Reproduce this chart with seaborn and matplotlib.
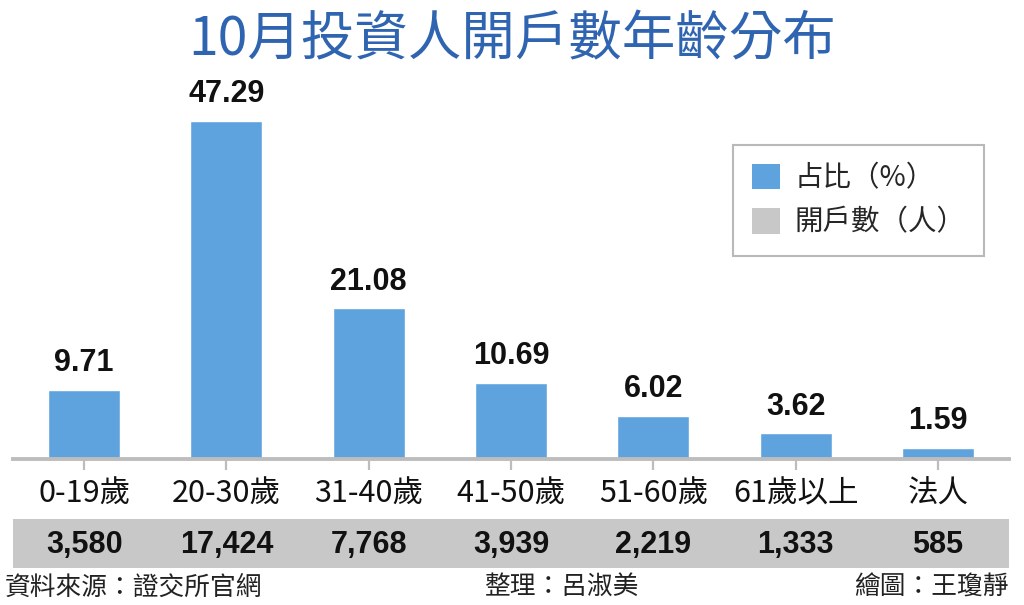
import matplotlib
matplotlib.use('Agg')
import matplotlib.pyplot as plt
import seaborn as sns
import pandas as pd
from matplotlib.patches import Patch

# data
age_groups = ['0-19歲', '20-30歲', '31-40歲', '41-50歲', '51-60歲', '61歲以上', '法人']
share_pct = [9.71, 47.29, 21.08, 10.69, 6.02, 3.62, 1.59]
accounts = [3580, 17424, 7768, 3939, 2219, 1333, 585]

title = '10月投資人開戶數年齡分布'
legend_labels = ['占比（%）', '開戶數（人）']
footer_left = '資料來源：證交所官網'
footer_mid = '整理：呂淑美'
footer_right = '繪圖：王瓊靜'

BAR_BLUE = '#5fa3de'
BAND_GRAY = '#c8c8c8'
LINE_GRAY = '#bdbdbd'
TITLE_BLUE = '#2f64b0'

sns.set_theme(style='white')
plt.rcParams['font.family'] = ['Noto Sans CJK TC', 'DejaVu Sans']
num_font = ['Liberation Sans', 'DejaVu Sans']

df = pd.DataFrame({'age': age_groups, 'pct': share_pct})

W, H = 1024, 605
fig = plt.figure(figsize=(W / 100, H / 100), dpi=100)

# main bar axes, placed in pixel terms
left, right, base, top = 13, 1009, 459, 87
ax = fig.add_axes([left / W, 1 - base / H, (right - left) / W, (base - top) / H])
sns.barplot(data=df, x='age', y='pct', color=BAR_BLUE, width=0.506,
            saturation=1, ax=ax)
ax.set_xlim(-0.5, len(age_groups) - 0.5)
ax.set_ylim(0, 52)
ax.set_xlabel('')
ax.set_ylabel('')
ax.set_yticks([])
for s in ['top', 'left', 'right']:
    ax.spines[s].set_visible(False)
ax.spines['bottom'].set_color(LINE_GRAY)
ax.spines['bottom'].set_linewidth(2.8)
ax.tick_params(axis='x', bottom=True, length=8, width=1.6, color=LINE_GRAY,
               pad=6, labelsize=22, labelcolor='#111111')

for i, v in enumerate(share_pct):
    ax.text(i, v + 1.6, f'{v:.2f}', ha='center', va='bottom', fontsize=22,
            fontweight='bold', family=num_font, color='#111111')

# legend box
handles = [Patch(facecolor=BAR_BLUE, edgecolor='none'),
           Patch(facecolor=BAND_GRAY, edgecolor='none')]
leg = fig.legend(handles, legend_labels, loc='upper left',
                 bbox_to_anchor=(733 / W, 1 - 145 / H), fontsize=20.5,
                 frameon=True, fancybox=False, handlelength=1.0, handleheight=1.0,
                 handletextpad=0.5, borderpad=0.65, labelspacing=0.5,
                 borderaxespad=0)
leg.get_frame().set_edgecolor('#a8a8a8')
leg.get_frame().set_linewidth(1.5)

# gray band with account counts
band = fig.add_axes([left / W, 1 - 568 / H, (right - left) / W, (568 - 519) / H])
band.set_facecolor(BAND_GRAY)
band.set_xlim(-0.5, len(age_groups) - 0.5)
band.set_ylim(0, 1)
band.set_xticks([])
band.set_yticks([])
for s in band.spines.values():
    s.set_visible(False)
for i, n in enumerate(accounts):
    band.text(i, 0.47, f'{n:,}', ha='center', va='center', fontsize=22,
              fontweight='bold', family=num_font, color='#111111')

fig.text(0.5, 1 - 40 / H, title, ha='center', va='center', fontsize=38.5,
         color=TITLE_BLUE)
fig.text(5 / W, 1 - 588 / H, footer_left, ha='left', va='center', fontsize=18.5,
         color='#222222')
fig.text(561 / W, 1 - 588 / H, footer_mid, ha='center', va='center',
         fontsize=18.5, color='#222222')
fig.text(1009 / W, 1 - 588 / H, footer_right, ha='right', va='center',
         fontsize=18.5, color='#222222')

fig.savefig('out.png', dpi=100, facecolor='white')
